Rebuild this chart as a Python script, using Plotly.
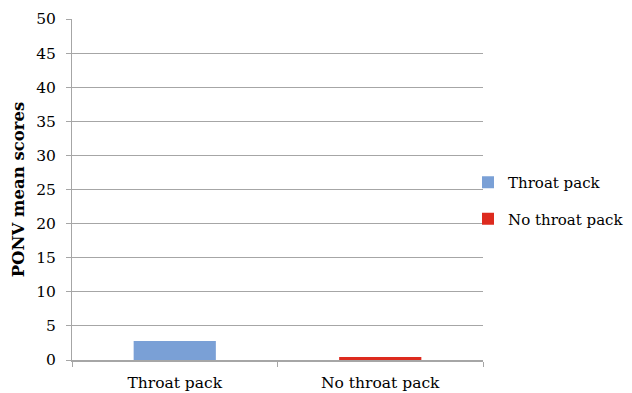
import plotly.graph_objects as go

categories = ["Throat pack", "No throat pack"]
throat_pack = [2.8, None]
no_throat_pack = [None, 0.45]
y_ticks = [0, 5, 10, 15, 20, 25, 30, 35, 40, 45, 50]

font_family = "DejaVu Serif, Liberation Serif, serif"

fig = go.Figure()
fig.add_trace(go.Bar(x=categories, y=throat_pack, name="Throat pack", legendgroup="a",
                     marker=dict(color="#7aa0d6", line=dict(width=0)), width=0.4))
fig.add_trace(go.Bar(x=categories, y=no_throat_pack, name="No throat pack", legendgroup="b",
                     marker=dict(color="#dd2a1e", line=dict(width=0)), width=0.4))

fig.update_layout(
    width=624, height=385,
    barmode="overlay",
    paper_bgcolor="white", plot_bgcolor="white",
    margin=dict(l=64, r=149, t=11, b=33, autoexpand=False),
    font=dict(family=font_family, size=15.5, color="black"),
    legend=dict(xref="container", yref="container", x=0.7372, y=0.5,
                xanchor="left", yanchor="middle",
                font=dict(size=15), tracegroupgap=14, itemwidth=30,
                bgcolor="rgba(0,0,0,0)"),
    xaxis=dict(showline=True, linecolor="#a6a6a6", linewidth=1.5, automargin=False,
               ticks="outside", tickson="boundaries", ticklen=5, tickcolor="#a6a6a6",
               showgrid=False, tickfont=dict(size=15.5), ticklabelstandoff=8),
    yaxis=dict(range=[0, 50], tickvals=y_ticks, showline=True, linecolor="#a6a6a6",
               linewidth=1, ticks="outside", ticklen=5, tickcolor="#a6a6a6", automargin=False,
               showgrid=True, gridcolor="#a6a6a6", gridwidth=1, zeroline=False,
               tickfont=dict(size=15.5), ticklabelstandoff=7,
               title=dict(text="<b>PONV mean scores</b>", font=dict(size=16.5), standoff=7)),
)

fig.write_html("out.html")
